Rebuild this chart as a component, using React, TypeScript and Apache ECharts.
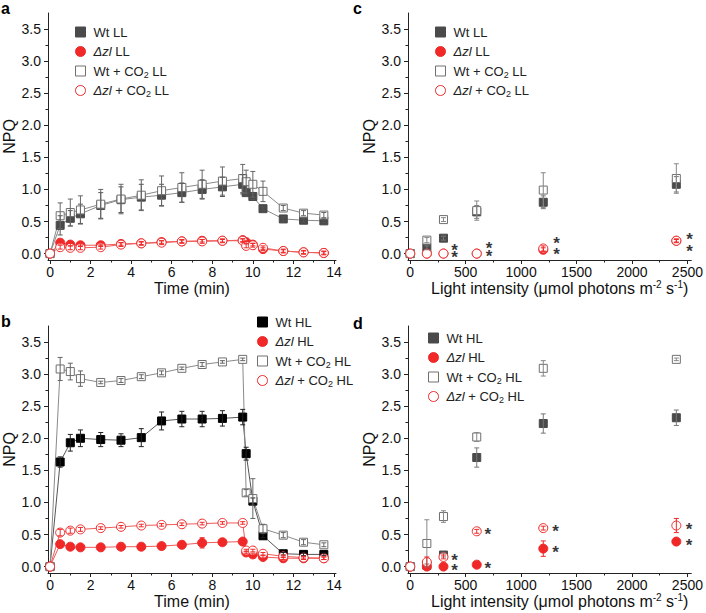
import React, { useEffect, useRef } from 'react';
import * as echarts from 'echarts';

// x positions
const timePoints = [0, 0.5, 1, 1.5, 2.5, 3.5, 4.5, 5.5, 6.5, 7.5, 8.5, 9.5, 9.67, 10, 10.5, 11.5, 12.5, 13.5];
const lightPoints = [0, 150, 300, 600, 1200, 2400];

// panel a - low light kinetics
const wtLL = [0, 0.44, 0.55, 0.62, 0.75, 0.84, 0.88, 0.91, 0.95, 1.0, 1.04, 1.08, 0.95, 0.89, 0.7, 0.54, 0.52, 0.51];
const wtLLErr = [0, 0.15, 0.12, 0.15, 0.2, 0.2, 0.2, 0.17, 0.15, 0.15, 0.15, 0.15, 0.05, 0.05, 0.03, 0.03, 0.03, 0.03];
const zlLL = [0, 0.17, 0.14, 0.13, 0.13, 0.15, 0.16, 0.18, 0.19, 0.2, 0.2, 0.21, 0.18, 0.14, 0.07, 0.04, 0.02, 0.01];
const zlLLErr = [0, 0.02, 0.02, 0.02, 0.02, 0.02, 0.02, 0.02, 0.02, 0.02, 0.02, 0.02, 0.02, 0.02, 0.02, 0.02, 0.02, 0.02];
const wtCO2LL = [0, 0.59, 0.64, 0.68, 0.77, 0.85, 0.91, 0.98, 1.03, 1.08, 1.13, 1.17, 1.12, 1.08, 0.97, 0.71, 0.63, 0.6];
const wtCO2LLErr = [0, 0.2, 0.21, 0.22, 0.23, 0.23, 0.24, 0.23, 0.23, 0.22, 0.22, 0.22, 0.18, 0.2, 0.16, 0.04, 0.04, 0.04];
const zlCO2LL = [0, 0.1, 0.09, 0.09, 0.1, 0.14, 0.16, 0.17, 0.19, 0.19, 0.2, 0.2, 0.12, 0.13, 0.09, 0.04, 0.02, 0.01];
const zlCO2LLErr = [0, 0.03, 0.03, 0.03, 0.03, 0.03, 0.03, 0.03, 0.03, 0.03, 0.03, 0.03, 0.03, 0.03, 0.03, 0.03, 0.03, 0.03];

// panel b - high light kinetics
const wtHL = [0, 1.63, 1.93, 2.0, 1.98, 1.97, 2.01, 2.27, 2.3, 2.3, 2.31, 2.33, 1.76, 1.02, 0.48, 0.2, 0.19, 0.19];
const wtHLErr = [0, 0.08, 0.13, 0.13, 0.11, 0.1, 0.14, 0.14, 0.12, 0.12, 0.12, 0.12, 0.1, 0.05, 0.03, 0.02, 0.02, 0.02];
const zlHL = [0, 0.35, 0.31, 0.3, 0.3, 0.31, 0.31, 0.32, 0.34, 0.37, 0.38, 0.39, 0.22, 0.19, 0.15, 0.13, 0.13, 0.13];
const zlHLErr = [0, 0.03, 0.02, 0.02, 0.02, 0.02, 0.02, 0.02, 0.03, 0.08, 0.03, 0.03, 0.02, 0.02, 0.02, 0.02, 0.02, 0.02];
const wtCO2HL = [0, 3.08, 3.04, 2.93, 2.87, 2.9, 2.96, 3.02, 3.09, 3.15, 3.19, 3.23, 1.15, 1.06, 0.59, 0.49, 0.38, 0.34];
const wtCO2HLErr = [0, 0.18, 0.13, 0.12, 0.02, 0.03, 0.03, 0.03, 0.02, 0.03, 0.02, 0.02, 0.05, 0.31, 0.07, 0.04, 0.04, 0.03];
const zlCO2HL = [0, 0.53, 0.56, 0.58, 0.6, 0.62, 0.64, 0.65, 0.66, 0.67, 0.68, 0.68, 0.25, 0.25, 0.2, 0.16, 0.14, 0.13];
const zlCO2HLErr = [0, 0.05, 0.04, 0.03, 0.02, 0.02, 0.02, 0.02, 0.02, 0.02, 0.02, 0.02, 0.02, 0.02, 0.02, 0.02, 0.02, 0.02];

// panel c - light response, LL
const lightWtLL = [0, 0.09, 0.24, 0.65, 0.8, 1.08];
const lightWtLLErr = [0, 0.03, 0.03, 0.1, 0.1, 0.12];
const lightZlLL = [0, 0, 0, 0, 0.06, 0.2];
const lightZlLLErr = [0, 0, 0, 0, 0.03, 0.02];
const lightWtCO2LL = [0, 0.21, 0.53, 0.67, 0.99, 1.17];
const lightWtCO2LLErr = [0, 0.04, 0.03, 0.15, 0.27, 0.23];
const lightZlCO2LL = [0, 0, 0, 0, 0.08, 0.2];
const lightZlCO2LLErr = [0, 0, 0, 0, 0.04, 0.03];
const starsC = [[400, 0.1], [400, -0.02], [710, 0.12], [710, 0.0], [1320, 0.21], [1320, 0.04], [2520, 0.27], [2520, 0.08]];

// panel d - light response, HL
const lightWtHL = [0, 0.02, 0.18, 1.7, 2.23, 2.32];
const lightWtHLErr = [0, 0.02, 0.03, 0.15, 0.15, 0.12];
const lightZlHL = [0, 0, 0, 0.03, 0.28, 0.39];
const lightZlHLErr = [0, 0, 0, 0.02, 0.12, 0.02];
const lightWtCO2HL = [0, 0.36, 0.78, 2.02, 3.09, 3.23];
const lightWtCO2HLErr = [0, 0.37, 0.09, 0.07, 0.12, 0.02];
const lightZlCO2HL = [0, 0.07, 0.15, 0.55, 0.6, 0.64];
const lightZlCO2HLErr = [0, 0.08, 0.03, 0.03, 0.03, 0.11];
const starsD = [[400, 0.14], [400, -0.02], [700, 0.55], [700, 0.02], [1310, 0.6], [1310, 0.26], [2515, 0.63], [2515, 0.38]];

// tick labels
const yTicks = [0, 0.5, 1, 1.5, 2, 2.5, 3, 3.5];
const yMinor = [0.25, 0.75, 1.25, 1.75, 2.25, 2.75, 3.25];
const timeTicks = [0, 2, 4, 6, 8, 10, 12, 14];
const timeMinor = [1, 3, 5, 7, 9, 11, 13];
const lightTicks = [0, 500, 1000, 1500, 2000, 2500];
const lightMinor = [250, 750, 1250, 1750, 2250];

const FONT = 'Liberation Sans, Arial, sans-serif';
const AXIS = '#222';
const RED = '#f02828';
const RED_LINE = '#f05a5a';
const DARK = '#4a4a4a';
const GRAY = '#707070';
const GRAY_LINE = '#8a8a8a';

const zip = (xs: number[], ys: number[]) => xs.map((x, i) => [x, ys[i]]);
const zipErr = (xs: number[], ys: number[], es: number[]) =>
  xs.map((x, i) => [x, ys[i], es[i]]).filter(d => d[2] > 0);

const errorBars = (name: string, data: number[][], color: string, idx: number) => ({
  type: 'custom',
  name,
  xAxisIndex: idx * 2,
  yAxisIndex: idx * 2,
  data,
  z: 5,
  silent: true,
  encode: { x: 0, y: 1 },
  renderItem: (_p: any, api: any) => {
    const x = api.value(0), y = api.value(1), e = api.value(2);
    const t = api.coord([x, y + e]);
    const b = api.coord([x, y - e]);
    const w = 2.5;
    const st = { stroke: color, lineWidth: 1 };
    return {
      type: 'group',
      children: [
        { type: 'line', shape: { x1: t[0], y1: t[1], x2: b[0], y2: b[1] }, style: st },
        { type: 'line', shape: { x1: t[0] - w, y1: t[1], x2: t[0] + w, y2: t[1] }, style: st },
        { type: 'line', shape: { x1: b[0] - w, y1: b[1], x2: b[0] + w, y2: b[1] }, style: st },
      ],
    };
  },
});

const stars = (name: string, data: number[][], idx: number) => ({
  type: 'scatter',
  name,
  xAxisIndex: idx * 2,
  yAxisIndex: idx * 2,
  data,
  symbolSize: 1,
  z: 6,
  silent: true,
  itemStyle: { color: 'rgba(0,0,0,0)' },
  label: {
    show: true, formatter: '*', position: 'inside', fontSize: 17, lineHeight: 8,
    fontWeight: 'bold', color: '#000', fontFamily: FONT, offset: [0, 3],
  },
});

type Sty = { symbol: string; size: number; fill: string; border: string };
const filledSq = (c: string): Sty => ({ symbol: 'rect', size: 8, fill: c, border: c });
const openSq: Sty = { symbol: 'rect', size: 8, fill: '#fff', border: GRAY };
const filledCi: Sty = { symbol: 'circle', size: 9, fill: RED, border: RED };
const openCi: Sty = { symbol: 'circle', size: 9, fill: '#fff', border: RED };

const pointSeries = (name: string, data: number[][], s: Sty, idx: number, lineColor?: string) => ({
  type: lineColor ? 'line' : 'scatter',
  name,
  xAxisIndex: idx * 2,
  yAxisIndex: idx * 2,
  data,
  symbol: s.symbol,
  symbolSize: s.size,
  showSymbol: true,
  clip: false,
  lineStyle: lineColor ? { color: lineColor, width: 1 } : undefined,
  itemStyle: { color: s.fill, borderColor: s.border, borderWidth: 1, opacity: 1 },
});

const legendItem = (name: string, s: Sty) => ({
  name,
  icon: s.symbol,
  itemStyle: { color: s.fill, borderColor: s.border, borderWidth: 1 },
});

const legend = (items: any[], left: number, top: number) => ({
  orient: 'vertical',
  left,
  top,
  itemGap: 3.5,
  itemWidth: 10,
  itemHeight: 10,
  selectedMode: false,
  data: items,
  formatter: (n: string) => n.slice(2).replace('Δzl', '{i|Δzl}').replace('CO2', 'CO{s|2}'),
  textStyle: {
    fontFamily: FONT,
    fontSize: 13,
    fontWeight: 'normal',
    color: '#222',
    lineHeight: 16,
    padding: [0, 0, 0, 3],
    rich: {
      i: { fontFamily: FONT, fontSize: 13, fontWeight: 'normal', fontStyle: 'italic', color: '#222', lineHeight: 16 },
      s: { fontFamily: FONT, fontSize: 9, fontWeight: 'normal', color: '#222', lineHeight: 9, verticalAlign: 'bottom' },
    },
  },
});

const xAxes = (gi: number, min: number, max: number, ticks: number[], minor: number[], name: string, pad: number) => [
  {
    type: 'value', gridIndex: gi, min, max, position: 'bottom',
    axisLine: { show: true, onZero: false, lineStyle: { color: AXIS, width: 1 } },
    axisTick: { show: true, inside: false, length: 4, customValues: ticks, lineStyle: { color: AXIS } },
    axisLabel: { customValues: ticks, margin: 5, fontSize: 14, color: '#111', fontFamily: FONT, formatter: (v: number) => String(v) },
    splitLine: { show: false },
    name, nameLocation: 'middle', nameGap: 18,
    nameTextStyle: {
      fontFamily: FONT, fontSize: 16, color: '#111', lineHeight: 18, padding: [0, 0, 0, pad],
      rich: { sup: { fontFamily: FONT, fontSize: 10, color: '#111', lineHeight: 10, verticalAlign: 'top' } },
    },
  },
  {
    type: 'value', gridIndex: gi, min, max, position: 'bottom',
    axisLine: { show: false, onZero: false },
    axisTick: { show: true, inside: false, length: 2.5, customValues: minor, lineStyle: { color: AXIS } },
    axisLabel: { show: false },
    splitLine: { show: false },
  },
];

const yAxes = (gi: number) => [
  {
    type: 'value', gridIndex: gi, min: -0.1, max: 3.75, position: 'left',
    axisLine: { show: true, onZero: false, lineStyle: { color: AXIS, width: 1 } },
    axisTick: { show: true, inside: false, length: 4, customValues: yTicks, lineStyle: { color: AXIS } },
    axisLabel: { customValues: yTicks, margin: 7, fontSize: 14, color: '#111', fontFamily: FONT, formatter: (v: number) => v.toFixed(1) },
    splitLine: { show: false },
    name: 'NPQ', nameLocation: 'middle', nameGap: 26,
    nameTextStyle: { fontFamily: FONT, fontSize: 16, color: '#111' },
  },
  {
    type: 'value', gridIndex: gi, min: -0.1, max: 3.75, position: 'left',
    axisLine: { show: false, onZero: false },
    axisTick: { show: true, inside: false, length: 2.5, customValues: yMinor, lineStyle: { color: AXIS } },
    axisLabel: { show: false },
    splitLine: { show: false },
  },
];

const lightName = 'Light intensity (μmol photons m{sup|-2} s{sup|-1})';

const App: React.FC = () => {
  const ref = useRef<HTMLDivElement>(null);

  useEffect(() => {
    if (!ref.current) return;
    const chart = echarts.init(ref.current, undefined, { renderer: 'svg' });

    const T = timePoints;
    const L = lightPoints;
    const letter = (t: string, x: number, y: number) => ({
      type: 'text', x, y,
      style: { text: t, font: `bold 16px ${FONT}`, fill: '#000', verticalAlign: 'top' },
    });

    chart.setOption({
      animation: false,
      textStyle: { fontFamily: FONT },
      grid: [
        { left: 48, top: 13, width: 288, height: 247 },
        { left: 48, top: 326, width: 288, height: 247 },
        { left: 408, top: 13, width: 288, height: 247 },
        { left: 408, top: 326, width: 288, height: 247 },
      ],
      xAxis: [
        ...xAxes(0, -0.1, 14.1, timeTicks, timeMinor, 'Time (min)', 0),
        ...xAxes(1, -0.1, 14.1, timeTicks, timeMinor, 'Time (min)', 0),
        ...xAxes(2, -20, 2535, lightTicks, lightMinor, lightName, 20),
        ...xAxes(3, -20, 2535, lightTicks, lightMinor, lightName, 20),
      ],
      yAxis: [...yAxes(0), ...yAxes(1), ...yAxes(2), ...yAxes(3)],
      legend: [
        legend([legendItem('a:Wt LL', filledSq(DARK)), legendItem('a:Δzl LL', filledCi), legendItem('a:Wt + CO2 LL', openSq), legendItem('a:Δzl + CO2 LL', openCi)], 70, 19),
        legend([legendItem('b:Wt HL', filledSq('#000')), legendItem('b:Δzl HL', filledCi), legendItem('b:Wt + CO2 HL', openSq), legendItem('b:Δzl + CO2 HL', openCi)], 252, 309),
        legend([legendItem('c:Wt LL', filledSq(DARK)), legendItem('c:Δzl LL', filledCi), legendItem('c:Wt + CO2 LL', openSq), legendItem('c:Δzl + CO2 LL', openCi)], 430, 19),
        legend([legendItem('d:Wt HL', filledSq(DARK)), legendItem('d:Δzl HL', filledCi), legendItem('d:Wt + CO2 HL', openSq), legendItem('d:Δzl + CO2 HL', openCi)], 423, 325),
      ],
      graphic: [
        letter('a', 1, 0),
        letter('b', 1, 313),
        letter('c', 353, 0),
        letter('d', 353, 315),
      ],
      series: [
        // a
        pointSeries('a:Wt LL', zip(T, wtLL), filledSq(DARK), 0, GRAY_LINE),
        pointSeries('a:Δzl LL', zip(T, zlLL), filledCi, 0, RED_LINE),
        pointSeries('a:Wt + CO2 LL', zip(T, wtCO2LL), openSq, 0, GRAY_LINE),
        pointSeries('a:Δzl + CO2 LL', zip(T, zlCO2LL), openCi, 0, RED_LINE),
        errorBars('a:errWt', zipErr(T, wtLL, wtLLErr), '#555', 0),
        errorBars('a:errWtCO2', zipErr(T, wtCO2LL, wtCO2LLErr), '#666', 0),
        errorBars('a:errZl', zipErr(T, zlLL, zlLLErr), RED, 0),
        errorBars('a:errZlCO2', zipErr(T, zlCO2LL, zlCO2LLErr), RED, 0),
        // b
        pointSeries('b:Wt HL', zip(T, wtHL), filledSq('#000'), 1, '#555'),
        pointSeries('b:Δzl HL', zip(T, zlHL), filledCi, 1, RED_LINE),
        pointSeries('b:Wt + CO2 HL', zip(T, wtCO2HL), openSq, 1, GRAY_LINE),
        pointSeries('b:Δzl + CO2 HL', zip(T, zlCO2HL), openCi, 1, RED_LINE),
        errorBars('b:errWt', zipErr(T, wtHL, wtHLErr), '#222', 1),
        errorBars('b:errWtCO2', zipErr(T, wtCO2HL, wtCO2HLErr), '#666', 1),
        errorBars('b:errZl', zipErr(T, zlHL, zlHLErr), RED, 1),
        errorBars('b:errZlCO2', zipErr(T, zlCO2HL, zlCO2HLErr), RED, 1),
        // c
        pointSeries('c:Wt LL', zip(L, lightWtLL), filledSq(DARK), 2),
        pointSeries('c:Δzl LL', zip(L, lightZlLL), filledCi, 2),
        pointSeries('c:Wt + CO2 LL', zip(L, lightWtCO2LL), openSq, 2),
        pointSeries('c:Δzl + CO2 LL', zip(L, lightZlCO2LL), openCi, 2),
        errorBars('c:errWt', zipErr(L, lightWtLL, lightWtLLErr), '#777', 2),
        errorBars('c:errWtCO2', zipErr(L, lightWtCO2LL, lightWtCO2LLErr), '#888', 2),
        errorBars('c:errZl', zipErr(L, lightZlLL, lightZlLLErr), RED, 2),
        errorBars('c:errZlCO2', zipErr(L, lightZlCO2LL, lightZlCO2LLErr), RED, 2),
        stars('c:stars', starsC, 2),
        // d
        pointSeries('d:Wt HL', zip(L, lightWtHL), filledSq(DARK), 3),
        pointSeries('d:Δzl HL', zip(L, lightZlHL), filledCi, 3),
        pointSeries('d:Wt + CO2 HL', zip(L, lightWtCO2HL), openSq, 3),
        pointSeries('d:Δzl + CO2 HL', zip(L, lightZlCO2HL), openCi, 3),
        errorBars('d:errWt', zipErr(L, lightWtHL, lightWtHLErr), '#777', 3),
        errorBars('d:errWtCO2', zipErr(L, lightWtCO2HL, lightWtCO2HLErr), '#888', 3),
        errorBars('d:errZl', zipErr(L, lightZlHL, lightZlHLErr), RED, 3),
        errorBars('d:errZlCO2', zipErr(L, lightZlCO2HL, lightZlCO2HLErr), RED, 3),
        stars('d:stars', starsD, 3),
      ],
    });

    return () => { chart.dispose(); };
  }, []);

  return <div ref={ref} style={{ position: 'absolute', left: 0, top: 0, width: 706, height: 613, background: '#fff' }} />;
};

export default App;
